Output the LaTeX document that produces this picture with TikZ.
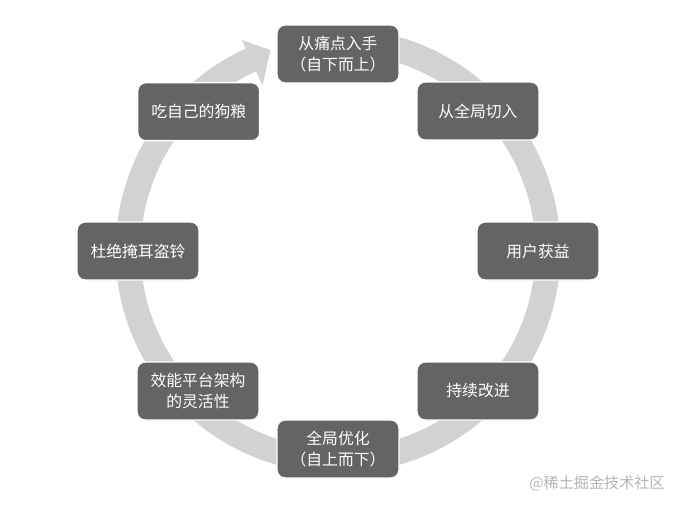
\documentclass[tikz,border=0pt]{standalone}
\usepackage{fontspec}
\newfontfamily\cjk{Noto Sans CJK SC}
\usepackage{tikz}
\usetikzlibrary{positioning,arrows.meta}
\definecolor{boxgray}{HTML}{646464}
\definecolor{ringgray}{HTML}{D2D2D2}
\definecolor{markgray}{HTML}{B4B4B4}
\tikzset{
  ring/.style={draw=ringgray, line width=0.5cm},
  ringhead/.style={fill=ringgray, draw=none},
  stagebox/.style={draw=white, line width=0.8pt, rounded corners=0.16cm, fill=boxgray, text=white, minimum width=2.44cm, minimum height=1.16cm, align=center, font=\cjk\fontsize{9}{11.5}\selectfont},
  watermark/.style={text=markgray, font=\cjk\fontsize{8.6}{10}\selectfont}
}

\begin{document}
\begin{tikzpicture}[x=0.02cm, y=0.02cm]
  \useasboundingbox (-338,-254) rectangle (337,251);
  % the cycle
  \draw[ring] (80:210) arc[start angle=80, end angle=-245.5, radius=4.2cm];
  \fill[ringhead] (114.5:232) -- (108.6:212) -- (114.5:182) -- cycle;
  \node[stagebox] (pain) at (90:197) {从痛点入手\\（自下而上）};
  \node[stagebox] (whole) at (45:198) {从全局切入};
  \node[stagebox] (gain) at (0:200) {用户获益};
  \node[stagebox] (improve) at (-45:198) {持续改进};
  \node[stagebox] (optimize) at (-90:198) {全局优化\\（自上而下）};
  \node[stagebox] (platform) at (-135:198) {效能平台架构\\的灵活性};
  \node[stagebox] (honest) at (180:200) {杜绝掩耳盗铃};
  \node[stagebox] (dogfood) at (135:197) {吃自己的狗粮};
  \node[watermark] (mark) at (259,-232) {@稀土掘金技术社区};
\end{tikzpicture}
\end{document}
